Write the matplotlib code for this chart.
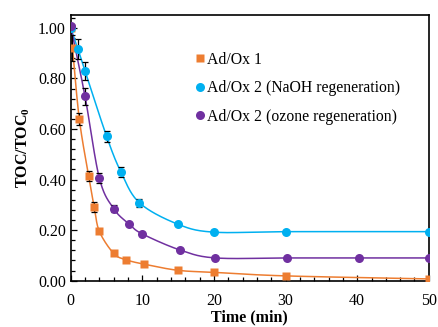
import numpy as np
import matplotlib
matplotlib.use("Agg")
import matplotlib.pyplot as plt
from matplotlib.ticker import MultipleLocator, FormatStrFormatter

plt.rcParams['font.family'] = ['Liberation Serif', 'DejaVu Serif']
plt.rcParams['mathtext.fontset'] = 'custom'
plt.rcParams['mathtext.rm'] = 'Liberation Serif'
plt.rcParams['mathtext.bf'] = 'Liberation Serif:bold'

# data
t_ox1 = [0, 0.25, 1.2, 2.5, 3.3, 4, 6, 7.7, 10.3, 15, 20, 30, 50]
y_ox1 = [1.0, 0.92, 0.64, 0.415, 0.29, 0.195, 0.108, 0.083, 0.065, 0.041, 0.033, 0.019, 0.007]
e_ox1 = [0, 0.05, 0.025, 0.02, 0.02, 0, 0, 0, 0, 0, 0, 0, 0]

t_naoh = [0, 1, 2, 5, 7, 9.6, 15, 20, 30, 50]
y_naoh = [1.0, 0.917, 0.83, 0.572, 0.431, 0.308, 0.223, 0.192, 0.194, 0.194]
e_naoh = [0, 0.04, 0.035, 0.022, 0.02, 0.015, 0, 0, 0, 0]

t_ozone = [0, 2, 4, 6, 8.2, 10, 15.3, 20.2, 30.2, 40.2, 50]
y_ozone = [1.006, 0.729, 0.406, 0.285, 0.223, 0.185, 0.121, 0.09, 0.09, 0.09, 0.09]
e_ozone = [0, 0.035, 0.02, 0.015, 0, 0, 0, 0, 0, 0, 0]

labels = ["Ad/Ox 1", "Ad/Ox 2 (NaOH regeneration)", "Ad/Ox 2 (ozone regeneration)"]
colors = ["#ED7D31", "#00B0F0", "#7030A0"]
markers = ["s", "o", "o"]


def smooth(x, y, n=30):
    # catmull-rom like excel smoothed line
    x = np.asarray(x, float)
    y = np.asarray(y, float)
    px = np.concatenate([[2 * x[0] - x[1]], x, [2 * x[-1] - x[-2]]])
    py = np.concatenate([[2 * y[0] - y[1]], y, [2 * y[-1] - y[-2]]])
    xs, ys = [], []
    s = np.linspace(0, 1, n)
    for i in range(1, len(px) - 2):
        p0, p1, p2, p3 = [np.array([px[j], py[j]]) for j in (i - 1, i, i + 1, i + 2)]
        c1 = p1 + (p2 - p0) / 6
        c2 = p2 - (p3 - p1) / 6
        pts = ((1 - s) ** 3)[:, None] * p1 + (3 * (1 - s) ** 2 * s)[:, None] * c1 \
            + (3 * (1 - s) * s ** 2)[:, None] * c2 + (s ** 3)[:, None] * p2
        xs.append(pts[:, 0])
        ys.append(pts[:, 1])
    return np.concatenate(xs), np.concatenate(ys)


fig = plt.figure(figsize=(4.38, 3.27), dpi=100)
ax = fig.add_axes([0.1614, 0.1416, 0.979 - 0.1614, 0.955 - 0.1416])

series = [(t_ox1, y_ox1, e_ox1), (t_naoh, y_naoh, e_naoh), (t_ozone, y_ozone, e_ozone)]
for (t, y, e), c, m, lab in zip(series, colors, markers, labels):
    sx, sy = smooth(t, y)
    ax.plot(sx, sy, color=c, lw=1.1, zorder=2)
    ax.errorbar(t, y, yerr=e, fmt='none', ecolor='black', elinewidth=0.9,
                capsize=2.5, capthick=0.9, zorder=3)
    ax.plot(t, y, m, color=c, ms=6.5 if m == 'o' else 6.2, mec='none', zorder=4, label=lab)

ax.set_xlim(0, 50)
ax.set_ylim(0, 1.052)
ax.xaxis.set_major_locator(MultipleLocator(10))
ax.xaxis.set_minor_locator(MultipleLocator(2))
ax.yaxis.set_major_locator(MultipleLocator(0.2))
ax.yaxis.set_minor_locator(MultipleLocator(0.04))
ax.yaxis.set_major_formatter(FormatStrFormatter('%.2f'))
ax.tick_params(which='both', direction='in', labelsize=11.5, width=0.9)
ax.tick_params(which='major', length=4)
ax.tick_params(which='minor', length=3)
ax.tick_params(axis='x', pad=9)
for sp in ax.spines.values():
    sp.set_linewidth(1.2)

ax.set_xlabel("Time (min)", fontsize=11.5, fontweight='bold', labelpad=0)
ax.set_ylabel(r"TOC/TOC$_\mathbf{0}$", fontsize=11.5, fontweight='bold', labelpad=4)

leg = ax.legend(loc='upper left', bbox_to_anchor=(0.33, 0.885), frameon=False,
                fontsize=11.3, handlelength=0.6, handletextpad=0.15, labelspacing=0.8,
                borderaxespad=0)

fig.savefig("out.png", dpi=100)
